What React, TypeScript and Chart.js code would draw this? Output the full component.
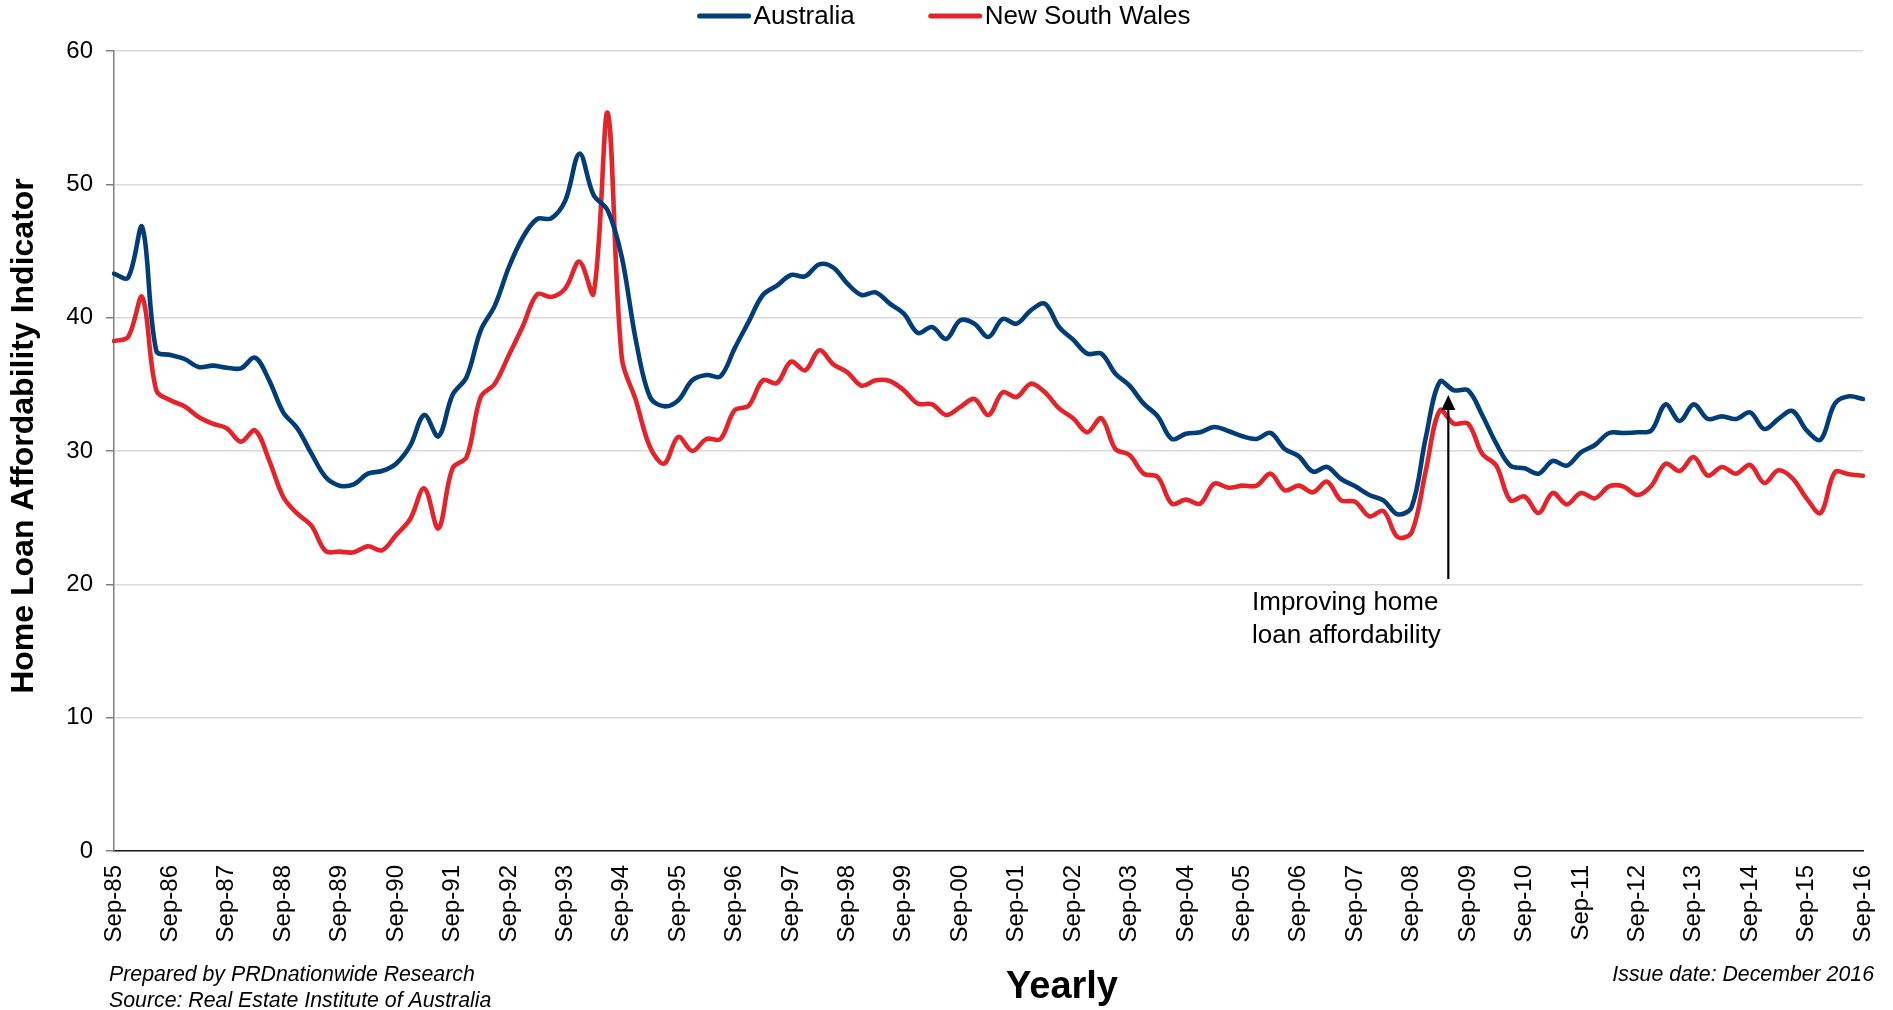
import React, { useEffect, useRef } from "react";
import { Chart, registerables } from "chart.js";

Chart.register(...registerables);

// ---- Data (quarterly, Sep-85 .. Sep-16) ----
const QUARTERS = ["Sep", "Dec", "Mar", "Jun"];
const START_YEAR = 1985;

const australia: number[] = [
  43.3, 43.0, 46.8, 37.5, 37.2, 36.9, 36.3, 36.4, 36.25, 36.2,
  37.0, 35.3, 32.9, 31.7, 29.8, 28.05, 27.4, 27.5, 28.3, 28.5,
  29.05, 30.4, 32.7, 31.1, 34.2, 35.55, 39.05, 40.9, 43.8, 46.05,
  47.4, 47.45, 48.8, 52.3, 49.2, 48.05, 44.55, 38.3, 34.05, 33.35,
  33.8, 35.3, 35.7, 35.6, 37.7, 39.7, 41.7, 42.4, 43.2, 43.1,
  44.0, 43.75, 42.55, 41.7, 41.9, 41.05, 40.3, 38.85, 39.3, 38.4,
  39.8, 39.55, 38.55, 39.9, 39.55, 40.55, 41.05, 39.3, 38.35, 37.3,
  37.3, 35.8, 34.9, 33.55, 32.6, 30.9, 31.3, 31.4, 31.8, 31.5,
  31.1, 30.9, 31.35, 30.15, 29.6, 28.45, 28.8, 27.9, 27.35, 26.7,
  26.3, 25.25, 25.8, 31.0, 35.2, 34.55, 34.55, 32.7, 30.55, 28.9,
  28.7, 28.3, 29.25, 28.9, 29.9, 30.45, 31.35, 31.35, 31.4, 31.55,
  33.5, 32.25, 33.5, 32.4, 32.6, 32.4, 32.9, 31.65, 32.4, 33.0,
  31.55, 30.85, 33.55, 34.1, 33.9,
];

const newSouthWales: number[] = [
  38.25, 38.55, 41.55, 34.55, 33.8, 33.35, 32.55, 32.05, 31.7, 30.7,
  31.55, 29.3, 26.55, 25.3, 24.4, 22.5, 22.45, 22.4, 22.85, 22.55,
  23.7, 24.9, 27.2, 24.2, 28.7, 29.55, 34.05, 35.05, 37.2, 39.4,
  41.75, 41.55, 42.2, 44.2, 41.8, 55.35, 37.0, 33.8, 30.3, 29.05,
  31.05, 30.0, 30.9, 30.9, 33.05, 33.4, 35.3, 35.1, 36.7, 36.05,
  37.55, 36.5, 35.9, 34.9, 35.3, 35.25, 34.55, 33.55, 33.5, 32.7,
  33.3, 33.9, 32.7, 34.4, 34.05, 35.05, 34.4, 33.2, 32.45, 31.4,
  32.45, 30.15, 29.7, 28.3, 28.05, 26.05, 26.35, 26.05, 27.55, 27.25,
  27.4, 27.4, 28.3, 27.05, 27.4, 26.9, 27.7, 26.3, 26.2, 25.1,
  25.5, 23.55, 23.9, 28.5, 33.05, 32.05, 32.05, 29.8, 28.9, 26.3,
  26.6, 25.35, 26.85, 26.0, 26.85, 26.45, 27.35, 27.35, 26.7, 27.4,
  29.05, 28.5, 29.55, 28.15, 28.8, 28.3, 28.95, 27.6, 28.55, 27.95,
  26.45, 25.35, 28.4, 28.25, 28.15,
];

const labels: string[] = australia.map((_, i) => {
  const yr = (START_YEAR + Math.floor((i + 2) / 4)) % 100;
  return `${QUARTERS[i % 4]}-${String(yr).padStart(2, "0")}`;
});

const yTicks = { min: 0, max: 60, step: 10 };

// annotation (arrow) position in data units
const arrowIndex = 94.6;
const arrowFrom = 20.4;
const arrowTo = 34.2;
const annotationLines = ["Improving home", "loan affordability"];

const BLUE = "#003D79";
const RED = "#E3242B";
const FONT = "'Liberation Sans', Arial, Helvetica, sans-serif";

const decorPlugin = {
  id: "decor",
  afterDraw(chart: any) {
    const ctx: CanvasRenderingContext2D = chart.ctx;
    const xs = chart.scales.x;
    const ys = chart.scales.y;
    ctx.save();
    ctx.fillStyle = "#000";

    // Legend
    ctx.font = `26px ${FONT}`;
    ctx.textBaseline = "middle";
    ctx.textAlign = "left";
    const items = chart.data.datasets.map((d: any) => ({
      label: d.label,
      color: d.borderColor,
      w: 56 + ctx.measureText(d.label).width,
    }));
    const gap = 74;
    const total = items.reduce((s: number, it: any) => s + it.w, 0) + gap * (items.length - 1);
    let lx = 944 - total / 2;
    const ly = 16;
    items.forEach((it: any) => {
      ctx.strokeStyle = it.color;
      ctx.lineWidth = 5;
      ctx.lineCap = "round";
      ctx.beginPath();
      ctx.moveTo(lx + 2, ly);
      ctx.lineTo(lx + 51, ly);
      ctx.stroke();
      ctx.fillStyle = "#000";
      ctx.fillText(it.label, lx + 56, ly + 1);
      lx += it.w + gap;
    });

    // Y axis title
    ctx.save();
    ctx.translate(24, 436);
    ctx.rotate(-Math.PI / 2);
    ctx.font = `bold 32px ${FONT}`;
    ctx.textAlign = "center";
    ctx.textBaseline = "middle";
    ctx.fillText("Home Loan Affordability Indicator", 0, 0);
    ctx.restore();

    // X axis title
    ctx.font = `bold 38px ${FONT}`;
    ctx.textAlign = "center";
    ctx.textBaseline = "middle";
    ctx.fillText("Yearly", 1062, 988);

    // Footer notes
    ctx.font = `italic 21.3px ${FONT}`;
    ctx.textAlign = "left";
    ctx.fillText("Prepared by PRDnationwide Research", 109, 975);
    ctx.fillText("Source: Real Estate Institute of Australia", 109, 1001);
    ctx.textAlign = "right";
    ctx.fillText("Issue date: December 2016", 1874, 975);

    // Annotation text
    ctx.font = `26px ${FONT}`;
    ctx.textAlign = "left";
    ctx.fillText(annotationLines[0], 1252, 603);
    ctx.fillText(annotationLines[1], 1252, 636);

    // Arrow
    const ax = xs.getPixelForValue(arrowIndex);
    const y0 = ys.getPixelForValue(arrowFrom);
    const y1 = ys.getPixelForValue(arrowTo);
    ctx.strokeStyle = "#000";
    ctx.lineWidth = 2.2;
    ctx.lineCap = "butt";
    ctx.beginPath();
    ctx.moveTo(ax, y0);
    ctx.lineTo(ax, y1 + 12);
    ctx.stroke();
    ctx.beginPath();
    ctx.moveTo(ax, y1);
    ctx.lineTo(ax - 7, y1 + 15);
    ctx.lineTo(ax + 7, y1 + 15);
    ctx.closePath();
    ctx.fill();

    ctx.restore();
  },
};

export default function App() {
  const ref = useRef<HTMLCanvasElement | null>(null);

  useEffect(() => {
    if (!ref.current) return;
    const chart = new Chart(ref.current, {
      type: "line",
      data: {
        labels,
        datasets: [
          {
            label: "Australia",
            data: australia,
            borderColor: BLUE,
            backgroundColor: BLUE,
            borderWidth: 4.6,
            pointRadius: 0,
            tension: 0.35,
            borderCapStyle: "round",
            borderJoinStyle: "round",
            fill: false,
          },
          {
            label: "New South Wales",
            data: newSouthWales,
            borderColor: RED,
            backgroundColor: RED,
            borderWidth: 4.6,
            pointRadius: 0,
            tension: 0.35,
            borderCapStyle: "round",
            borderJoinStyle: "round",
            fill: false,
          },
        ],
      },
      options: {
        responsive: false,
        animation: false,
        devicePixelRatio: 1,
        layout: { padding: { top: 51, right: 30, bottom: 0, left: 0 } },
        plugins: {
          legend: { display: false },
          tooltip: { enabled: false },
          title: { display: false },
        },
        scales: {
          x: {
            type: "category",
            offset: false,
            grid: { display: false, drawTicks: false },
            border: { display: true, color: "#1a1a1a", width: 1.5 },
            ticks: {
              autoSkip: false,
              minRotation: 90,
              maxRotation: 90,
              padding: 14,
              color: "#000",
              font: { family: FONT, size: 24 },
              callback: (_v: any, idx: number) => (idx % 4 === 0 ? labels[idx] : ""),
            },
            afterFit: (scale: any) => {
              scale.height = 159;
              scale.paddingLeft = 0;
              scale.paddingRight = 0;
            },
          },
          y: {
            min: yTicks.min,
            max: yTicks.max,
            grid: {
              color: "#D9D9D9",
              lineWidth: 1.5,
              tickLength: 8,
              tickColor: "#808080",
              tickWidth: 1.5,
            },
            border: { display: true, color: "#808080", width: 1.5 },
            ticks: {
              stepSize: yTicks.step,
              padding: 13,
              color: "#000",
              font: { family: FONT, size: 24 },
            },
            afterFit: (scale: any) => {
              scale.width = 114;
            },
          },
        },
      },
      plugins: [decorPlugin],
    });
    return () => chart.destroy();
  }, []);

  return (
    <div style={{ position: "fixed", left: 0, top: 0, width: 1893, height: 1010, background: "#fff" }}>
      <canvas ref={ref} width={1893} height={1010} style={{ display: "block" }} />
    </div>
  );
}
